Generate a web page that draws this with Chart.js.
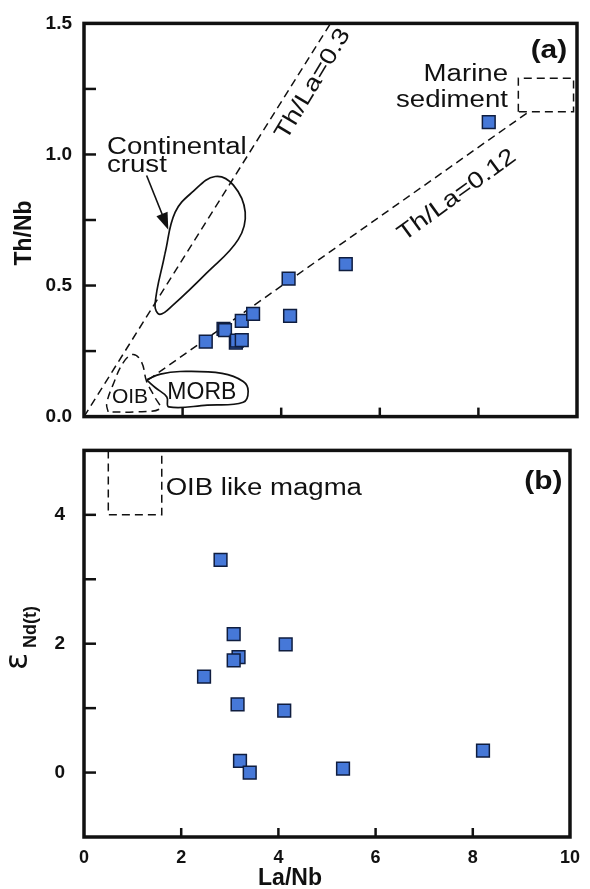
<!DOCTYPE html>
<html>
<head>
<meta charset="utf-8">
<script src="https://cdn.jsdelivr.net/npm/chart.js@4.4.1/dist/chart.umd.min.js"></script>
<style>
  html, body { margin: 0; padding: 0; background: #fff; }
  #wrap { position: relative; width: 590px; height: 889px; }
  canvas { position: absolute; left: 0; }
  #chartTop { top: 0; }
  #chartBot { top: 420px; }
</style>
</head>
<body>
<div id="wrap">
  <canvas id="chartTop" width="590" height="440"></canvas>
  <canvas id="chartBot" width="590" height="469"></canvas>
</div>
<script>
// --- Datos: panel (a) Th/Nb vs La/Nb ---
const topLaNb = [2.47, 2.83, 2.86, 3.08, 3.10, 3.20, 3.20, 3.43, 4.15, 4.18, 5.31, 8.21];
const topThNb = [0.286, 0.335, 0.330, 0.282, 0.290, 0.292, 0.365, 0.392, 0.526, 0.384, 0.582, 1.123];

// --- Datos: panel (b) eNd(t) vs La/Nb ---
const botLaNb = [2.81, 3.08, 4.15, 3.18, 3.08, 2.47, 3.16, 4.12, 3.21, 3.41, 5.33, 8.21];
const botEpsNd = [3.30, 2.15, 1.99, 1.79, 1.74, 1.49, 1.06, 0.96, 0.18, 0.00, 0.06, 0.34];

// Ejes
const xTicksLabels = [0, 2, 4, 6, 8, 10];
const xTicksInternos = [2, 4, 6, 8];
const yTicksA = [0, 0.25, 0.5, 0.75, 1.0, 1.25, 1.5];
const yTicksB = [-1, 0, 1, 2, 3, 4, 5];

// Lineas de referencia y campos (coordenadas de datos)
const lineaThLa03 = [[0, 0], [5, 1.5]];
const lineaThLa012 = [[1.3, 0.14], [9.0, 1.16]];
const campoCorteza = [[1.64, 0.62], [1.85, 0.78], [2.22, 0.86], [2.66, 0.916], [3.03, 0.883], [3.27, 0.78],
                      [3.13, 0.676], [2.49, 0.548], [1.81, 0.426], [1.54, 0.39], [1.44, 0.426], [1.64, 0.62]];
const campoMORB = [[1.27, 0.14], [1.55, 0.162], [1.95, 0.172], [2.8, 0.165], [3.23, 0.134], [3.33, 0.097],
                   [3.23, 0.055], [2.5, 0.044], [1.72, 0.037], [1.68, 0.075], [1.45, 0.11], [1.27, 0.14]];
const campoOIB = [[0.49, 0.018], [0.46, 0.049], [0.59, 0.122], [0.80, 0.207], [1.00, 0.237], [1.17, 0.207],
                  [1.27, 0.134], [1.44, 0.073], [1.54, 0.030], [1.00, 0.018], [0.49, 0.018]];
const cajaSedimento = [[8.81, 1.163], [8.81, 1.291], [9.93, 1.291], [9.93, 1.163], [8.81, 1.163]];
const cajaOIBmagma = [[0.5, 5], [0.5, 4], [1.6, 4], [1.6, 5]];

const FUENTE = '"Liberation Sans", Arial, sans-serif';
const NEGRO = '#111';

function puntos(xs, ys) { return xs.map((x, i) => ({ x, y: ys[i] })); }
function contorno(pares) { return pares.map(p => ({ x: p[0], y: p[1] })); }

const estiloMuestra = {
  pointStyle: 'rect', pointRadius: 9, pointHoverRadius: 9,
  backgroundColor: '#4678d8', borderColor: '#0f1d3f', borderWidth: 1.5, showLine: false
};
function trazo(pares, discontinuo, curva) {
  return {
    data: contorno(pares), showLine: true, pointRadius: 0, fill: false,
    borderColor: NEGRO, borderWidth: discontinuo ? 1.5 : 1.7,
    borderDash: discontinuo ? [8, 5] : [], tension: curva ? 0.4 : 0
  };
}

// Texto con escala horizontal (la figura original tiene letra ancha)
function texto(ctx, str, x, y, o) {
  ctx.save();
  ctx.translate(x, y);
  if (o.angulo) ctx.rotate(o.angulo * Math.PI / 180);
  ctx.scale(o.sx || 1, 1);
  ctx.font = `${o.peso || 'normal'} ${o.size}px ${FUENTE}`;
  ctx.textAlign = o.align || 'left';
  ctx.textBaseline = o.base || 'alphabetic';
  ctx.fillStyle = NEGRO;
  ctx.fillText(str, 0, 0);
  ctx.restore();
}

// Marco, ticks hacia dentro
function marcoPlugin(id, yTicks, largoY, anotar) {
  return {
    id: 'marco_' + id,
    afterDatasetsDraw(chart) { anotar(chart); },
    afterDraw(chart) {
      const { ctx, chartArea: a, scales: { x, y } } = chart;
      ctx.save();
      ctx.strokeStyle = NEGRO;
      ctx.lineWidth = 2.5;
      yTicks.forEach(v => {
        const py = y.getPixelForValue(v);
        ctx.beginPath(); ctx.moveTo(a.left, py); ctx.lineTo(a.left + largoY, py); ctx.stroke();
      });
      xTicksInternos.forEach(v => {
        const px = x.getPixelForValue(v);
        ctx.beginPath(); ctx.moveTo(px, a.bottom); ctx.lineTo(px, a.bottom - 9); ctx.stroke();
      });
      ctx.lineWidth = 3.5;
      ctx.strokeRect(a.left, a.top, a.right - a.left, a.bottom - a.top);
      ctx.restore();
    }
  };
}

function anotarA(chart) {
  const { ctx, scales: { x, y } } = chart;
  const X = v => x.getPixelForValue(v), Y = v => y.getPixelForValue(v);
  texto(ctx, 'Continental', X(0.467), Y(1.001), { size: 23, sx: 1.2 });
  texto(ctx, 'crust', X(0.467), Y(0.932), { size: 23, sx: 1.2 });
  texto(ctx, 'Marine', X(8.60), Y(1.282), { size: 23, sx: 1.2, align: 'right' });
  texto(ctx, 'sediment', X(8.60), Y(1.180), { size: 23, sx: 1.2, align: 'right' });
  texto(ctx, '(a)', X(9.43), Y(1.396), { size: 26, sx: 1.15, peso: 'bold', align: 'center', base: 'middle' });
  texto(ctx, 'Th/La=0.3', X(4.645), Y(1.268), { size: 23, sx: 1.2, angulo: -59, align: 'center', base: 'middle' });
  texto(ctx, 'Th/La=0.12', X(7.566), Y(0.844), { size: 23, sx: 1.2, angulo: -36, align: 'center', base: 'middle' });
  texto(ctx, 'OIB', X(0.933), Y(0.073), { size: 21, align: 'center', base: 'middle' });
  texto(ctx, 'MORB', X(2.39), Y(0.090), { size: 23, align: 'center', base: 'middle' });

  // Flecha hacia la corteza continental
  const x0 = X(1.27), y0 = Y(0.92), x1 = X(1.71), y1 = Y(0.713);
  const ang = Math.atan2(y1 - y0, x1 - x0);
  ctx.save();
  ctx.strokeStyle = NEGRO; ctx.fillStyle = NEGRO; ctx.lineWidth = 1.6;
  ctx.beginPath(); ctx.moveTo(x0, y0); ctx.lineTo(x1 - 12 * Math.cos(ang), y1 - 12 * Math.sin(ang)); ctx.stroke();
  ctx.beginPath();
  ctx.moveTo(x1, y1);
  ctx.lineTo(x1 - 17 * Math.cos(ang) + 6 * Math.sin(ang), y1 - 17 * Math.sin(ang) - 6 * Math.cos(ang));
  ctx.lineTo(x1 - 17 * Math.cos(ang) - 6 * Math.sin(ang), y1 - 17 * Math.sin(ang) + 6 * Math.cos(ang));
  ctx.closePath(); ctx.fill();
  ctx.restore();

  // Titulo eje Y
  texto(ctx, 'Th/Nb', 25, 233, { size: 23, peso: 'bold', angulo: -90, align: 'center', base: 'middle' });
}

function anotarB(chart) {
  const { ctx, scales: { x, y } } = chart;
  const X = v => x.getPixelForValue(v), Y = v => y.getPixelForValue(v);
  texto(ctx, 'OIB like magma', X(1.68), Y(4.305), { size: 23, sx: 1.2 });
  texto(ctx, '(b)', X(9.45), Y(4.51), { size: 26, sx: 1.15, peso: 'bold', align: 'center', base: 'middle' });

  // Titulo eje Y con subindice
  ctx.save();
  ctx.translate(0, 215);
  ctx.rotate(-Math.PI / 2);
  ctx.fillStyle = NEGRO;
  ctx.textAlign = 'left';
  ctx.textBaseline = 'alphabetic';
  ctx.font = '32px "DejaVu Sans", sans-serif';
  ctx.fillText('ε', -35, 27);
  ctx.font = `bold 18px ${FUENTE}`;
  ctx.fillText('Nd(t)', -13, 36);
  ctx.restore();

  // Titulo eje X
  texto(ctx, 'La/Nb', 290, 459, { size: 23, peso: 'bold', align: 'center', base: 'middle' });
}

const opcionesBase = {
  responsive: false, animation: false, devicePixelRatio: 1, events: [],
  plugins: { legend: { display: false }, tooltip: { enabled: false } }
};

// --- Panel (a) ---
new Chart(document.getElementById('chartTop'), {
  type: 'scatter',
  data: {
    datasets: [
      { data: puntos(topLaNb, topThNb), ...estiloMuestra },
      trazo(lineaThLa03, true, false),
      trazo(lineaThLa012, true, false),
      trazo(campoCorteza, false, true),
      trazo(campoMORB, false, true),
      trazo(campoOIB, true, true),
      trazo(cajaSedimento, true, false)
    ]
  },
  options: {
    ...opcionesBase,
    layout: { padding: { top: 19, right: 13, bottom: 10, left: 0 } },
    scales: {
      x: { type: 'linear', min: 0, max: 10, display: false },
      y: {
        type: 'linear', min: 0, max: 1.5,
        afterFit: s => { s.width = 84; },
        afterBuildTicks: s => { s.ticks = yTicksA.map(v => ({ value: v })); },
        grid: { display: false, drawTicks: false }, border: { display: false },
        ticks: {
          padding: 12, color: NEGRO, font: { family: FUENTE, size: 19, weight: 'bold' },
          callback: v => (Math.abs(v * 2 - Math.round(v * 2)) < 1e-6) ? v.toFixed(1) : ''
        }
      }
    }
  },
  plugins: [marcoPlugin('a', yTicksA, 12, anotarA)]
});

// --- Panel (b) ---
new Chart(document.getElementById('chartBot'), {
  type: 'scatter',
  data: {
    datasets: [
      { data: puntos(botLaNb, botEpsNd), ...estiloMuestra },
      trazo(cajaOIBmagma, true, false)
    ]
  },
  options: {
    ...opcionesBase,
    layout: { padding: { top: 10, right: 13, bottom: 0, left: 0 } },
    scales: {
      x: {
        type: 'linear', min: 0, max: 10,
        afterFit: s => { s.height = 52; },
        afterBuildTicks: s => { s.ticks = xTicksLabels.map(v => ({ value: v })); },
        grid: { display: false, drawTicks: false }, border: { display: false },
        ticks: { padding: 10, color: NEGRO, maxRotation: 0, autoSkip: false, font: { family: FUENTE, size: 18, weight: 'bold' } }
      },
      y: {
        type: 'linear', min: -1, max: 5,
        afterFit: s => { s.width = 84; },
        afterBuildTicks: s => { s.ticks = yTicksB.map(v => ({ value: v })); },
        grid: { display: false, drawTicks: false }, border: { display: false },
        ticks: {
          padding: 19, color: NEGRO, font: { family: FUENTE, size: 19, weight: 'bold' },
          callback: v => (v >= 0 && v % 2 === 0) ? String(v) : ''
        }
      }
    }
  },
  plugins: [marcoPlugin('b', yTicksB.slice(1, -1), 12, anotarB)]
});
</script>
</body>
</html>
